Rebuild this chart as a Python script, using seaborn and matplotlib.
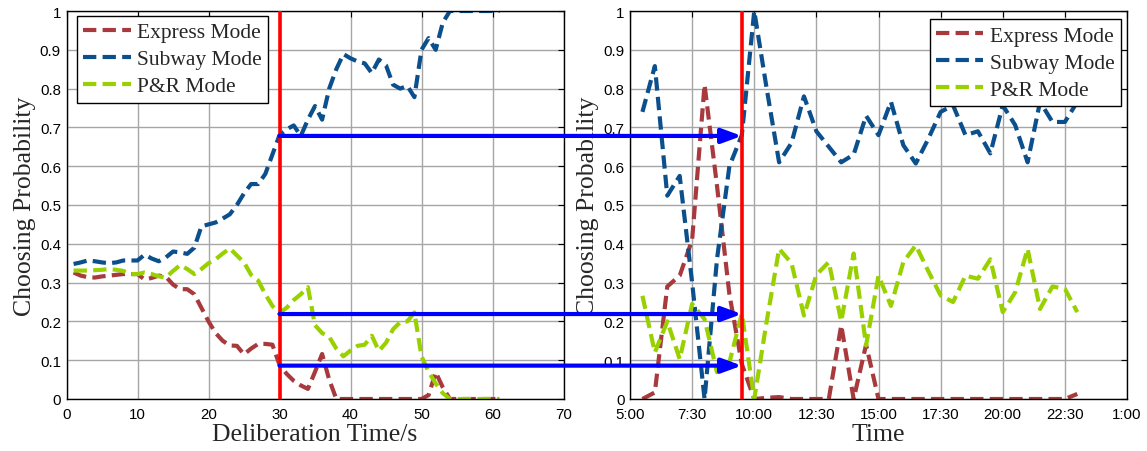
import numpy as np
import pandas as pd
import matplotlib
matplotlib.use("Agg")
import matplotlib.pyplot as plt
import seaborn as sns
from matplotlib.patches import ConnectionPatch

# ---------------- data ----------------
modes = ["Express Mode", "Subway Mode", "P&R Mode"]
colors = ["#A83A3E", "#0B4F8C", "#99D100"]

delib_time = [1, 2, 3, 4, 5, 6, 7, 8, 9, 10,
              11, 12, 13, 14, 15, 16, 17, 18, 19, 20,
              21, 22, 23, 24, 25, 26, 27, 28, 29, 30,
              31, 32, 33, 34, 35, 36, 37, 38, 39, 40,
              41, 42, 43, 44, 45, 46, 47, 48, 49, 50,
              51, 52, 53, 54, 55, 56, 57, 58, 59, 60, 61]

express_left = [0.326, 0.318, 0.314, 0.313, 0.316, 0.318, 0.32, 0.322, 0.322, 0.322,
                0.308, 0.312, 0.318, 0.315, 0.295, 0.283, 0.283, 0.27, 0.235, 0.2,
                0.17, 0.15, 0.138, 0.137, 0.115, 0.13, 0.142, 0.142, 0.14, 0.088,
                0.065, 0.047, 0.035, 0.026, 0.07, 0.116, 0.05, 0.0, 0, 0,
                0, 0, 0, 0, 0, 0, 0, 0, 0, 0,
                0.01, 0.069, 0.03, 0, 0, 0, 0, 0, 0, 0, 0]
subway_left = [0.348, 0.352, 0.357, 0.355, 0.352, 0.35, 0.352, 0.357, 0.357, 0.357,
               0.372, 0.362, 0.355, 0.365, 0.38, 0.378, 0.374, 0.39, 0.445, 0.45,
               0.455, 0.465, 0.476, 0.5, 0.53, 0.554, 0.554, 0.58, 0.63, 0.68,
               0.695, 0.705, 0.678, 0.72, 0.755, 0.72, 0.80, 0.85, 0.889, 0.878,
               0.87, 0.865, 0.84, 0.875, 0.86, 0.81, 0.80, 0.807, 0.778, 0.90,
               0.93, 0.90, 0.97, 1, 1, 1, 1, 1, 1, 1, 1]
pr_left = [0.331, 0.331, 0.331, 0.332, 0.333, 0.335, 0.333, 0.33, 0.322, 0.322,
           0.326, 0.322, 0.316, 0.313, 0.33, 0.345, 0.335, 0.322, 0.335, 0.35,
           0.36, 0.375, 0.388, 0.37, 0.352, 0.32, 0.305, 0.27, 0.24, 0.222,
           0.235, 0.255, 0.27, 0.288, 0.19, 0.17, 0.16, 0.13, 0.11, 0.125,
           0.137, 0.14, 0.163, 0.124, 0.145, 0.18, 0.198, 0.2, 0.223, 0.11,
           0.07, 0.04, 0.015, 0, 0, 0, 0, 0, 0, 0, 0]

# hours of the day (5.5 = 5:30)
clock_time = [5.5, 6.0, 6.5, 7.0, 7.5, 8.0, 8.5, 9.0, 9.5, 10.0,
              10.5, 11.0, 11.5, 12.0, 12.5, 13.0, 13.5, 14.0, 14.5, 15.0,
              15.5, 16.0, 16.5, 17.0, 17.5, 18.0, 18.5, 19.0, 19.5, 20.0,
              20.5, 21.0, 21.5, 22.0, 22.5, 23.0]
express_right = [0, 0.017, 0.29, 0.318, 0.41, 0.81, 0.55, 0.27, 0.09, 0,
                 0.003, 0.005, 0, 0, 0, 0, 0.19, 0, 0.14, 0,
                 0, 0, 0, 0, 0, 0, 0, 0, 0, 0,
                 0, 0, 0, 0, 0, 0.013]
subway_right = [0.74, 0.858, 0.524, 0.575, 0.3, 0.0, 0.36, 0.6, 0.68, 1.0,
                0.8, 0.61, 0.66, 0.78, 0.69, 0.65, 0.61, 0.63, 0.73, 0.68,
                0.766, 0.654, 0.607, 0.67, 0.74, 0.757, 0.68, 0.69, 0.633, 0.757,
                0.706, 0.61, 0.766, 0.714, 0.714, 0.766]
pr_right = [0.266, 0.12, 0.2, 0.103, 0.245, 0.206, 0.069, 0.094, 0.22, 0,
            0.2, 0.387, 0.35, 0.215, 0.32, 0.353, 0.2, 0.375, 0.138, 0.318,
            0.24, 0.353, 0.396, 0.33, 0.267, 0.25, 0.318, 0.31, 0.36, 0.224,
            0.275, 0.387, 0.232, 0.29, 0.284, 0.224]

left_xticks = [0, 10, 20, 30, 40, 50, 60, 70]
right_xticks = [5, 7.5, 10, 12.5, 15, 17.5, 20, 22.5, 25]
right_xticklabels = ["5:00", "7:30", "10:00", "12:30", "15:00", "17:30", "20:00", "22:30", "1:00"]
yticks = [0, 0.1, 0.2, 0.3, 0.4, 0.5, 0.6, 0.7, 0.8, 0.9, 1]
yticklabels = ["0", "0.1", "0.2", "0.3", "0.4", "0.5", "0.6", "0.7", "0.8", "0.9", "1"]

left_cut = 30
right_cut = 9.5
arrow_levels = [0.678, 0.219, 0.086]

# ---------------- style ----------------
sns.set_style("white")
plt.rcParams["font.family"] = ["Liberation Sans", "DejaVu Sans"]
SERIF = ["Liberation Serif", "DejaVu Serif"]

W, H = 1147, 452
fig = plt.figure(figsize=(W / 100, H / 100), dpi=100)
ax1 = fig.add_axes([66.5 / W, 52 / H, 497 / W, 388 / H])
ax2 = fig.add_axes([630 / W, 52 / H, 497 / W, 388 / H])

palette = dict(zip(modes, colors))
dash_map = {m: (3.2, 1.5) for m in modes}


def long_df(x, series):
    rows = []
    for m, vals in zip(modes, series):
        rows.append(pd.DataFrame({"x": x, "p": vals, "mode": m}))
    return pd.concat(rows, ignore_index=True)


def draw(ax, x, series, xlabel, legend_loc, legend_anchor):
    df = long_df(x, series)
    sns.lineplot(data=df, x="x", y="p", hue="mode", style="mode",
                 hue_order=modes, style_order=modes,
                 palette=palette, dashes=dash_map, linewidth=3,
                 estimator=None, sort=False, legend=False, ax=ax)
    handles = list(ax.get_lines()[:3])
    ax.set_ylim(0, 1)
    ax.set_yticks(yticks)
    ax.set_yticklabels(yticklabels)
    ax.grid(True, color="#a6a6a6", linewidth=1)
    ax.tick_params(axis="x", pad=6)
    ax.tick_params(axis="y", pad=4)
    ax.tick_params(direction="in", top=True, right=True, length=4,
                   labelsize=10.8, colors="black")
    for s in ax.spines.values():
        s.set_color("black")
        s.set_linewidth(1)
    ax.set_xlabel(xlabel, family=SERIF, fontsize=18.5, labelpad=1)
    ax.set_ylabel("Choosing Probability", family=SERIF, fontsize=18.5, labelpad=3)
    leg = ax.legend(handles, modes, loc=legend_loc, bbox_to_anchor=legend_anchor,
                    borderaxespad=0, prop={"family": SERIF, "size": 15.5},
                    handlelength=2.2, handletextpad=0.3, labelspacing=0.32,
                    borderpad=0.3, fancybox=False, framealpha=1,
                    edgecolor="black")
    leg.get_frame().set_linewidth(1)
    return handles


draw(ax1, delib_time, [express_left, subway_left, pr_left],
     "Deliberation Time/s", "upper left", (0.021, 0.988))
ax1.set_xlim(0, 70)
ax1.set_xticks(left_xticks)

draw(ax2, clock_time, [express_right, subway_right, pr_right],
     "Time", "upper right", (0.988, 0.979))
ax2.set_xlim(5, 25)
ax2.set_xticks(right_xticks)
ax2.set_xticklabels(right_xticklabels)

ax1.axvline(left_cut, color="red", linewidth=2.6, zorder=6)
ax2.axvline(right_cut, color="red", linewidth=2.6, zorder=6)

for y in arrow_levels:
    con = ConnectionPatch(xyA=(left_cut, y), coordsA=ax1.transData,
                          xyB=(right_cut, y), coordsB=ax2.transData,
                          arrowstyle="-|>,head_length=0.6,head_width=0.22",
                          mutation_scale=20, color="blue", linewidth=3,
                          shrinkA=0, shrinkB=0, zorder=10)
    fig.add_artist(con)

fig.savefig("out.png", dpi=100)
